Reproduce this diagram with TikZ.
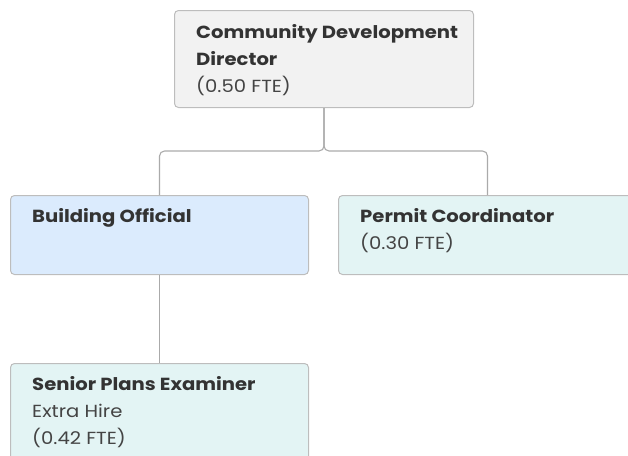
\documentclass[tikz,border=0pt]{standalone}
\usepackage{fontspec}
\setmainfont[FakeStretch=1.12]{Poppins}
\definecolor{boxline}{HTML}{BDBDBD}
\definecolor{connline}{HTML}{AAAAAA}
\definecolor{greyfill}{HTML}{F2F2F2}
\definecolor{bluefill}{HTML}{DBEBFD}
\definecolor{tealfill}{HTML}{E3F4F4}
\definecolor{txtdark}{HTML}{333333}
\definecolor{txtlight}{HTML}{444444}
\tikzset{
  box/.style={draw=boxline, line width=1pt, rounded corners=4pt, minimum width=298pt, anchor=north west, inner sep=0pt},
  txt/.style={anchor=north west, inner sep=0pt, align=left, text=txtdark, font=\fontsize{17.5}{27}\selectfont},
  conn/.style={draw=connline, line width=1.1pt, rounded corners=5pt},
}
\begin{document}
\begin{tikzpicture}[x=1pt,y=-1pt]
\useasboundingbox (0,0) rectangle (628,455);
\clip (0,0) rectangle (628,455);
\node[box, fill=greyfill, minimum width=299pt, minimum height=97pt] (dir) at (174,10) {};
\node[box, fill=bluefill, minimum height=79pt] (bo) at (10,195) {};
\node[box, fill=tealfill, minimum height=79pt] (pc) at (338,195) {};
\node[box, fill=tealfill, minimum height=97pt] (spe) at (10,363) {};
\node[txt] (dirt) at (196,24) {\textbf{Community Development}\\\textbf{Director}\\{\color{txtlight}(0.50 FTE)}};
\node[txt] (bot) at (32,208) {\textbf{Building Official}};
\node[txt] (pct) at (360,208) {\textbf{Permit Coordinator}\\{\color{txtlight}(0.30 FTE)}};
\node[txt] (spet) at (32,376) {\textbf{Senior Plans Examiner}\\{\color{txtlight}Extra Hire}\\{\color{txtlight}(0.42 FTE)}};
\coordinate (j) at (323,151);
\draw[conn] (dir.south) -- (dir.south |- j) -| (bo.north);
\draw[conn] (dir.south) -- (dir.south |- j) -| (pc.north);
\draw[conn] (bo.south) -- (spe.north);
\end{tikzpicture}
\end{document}
